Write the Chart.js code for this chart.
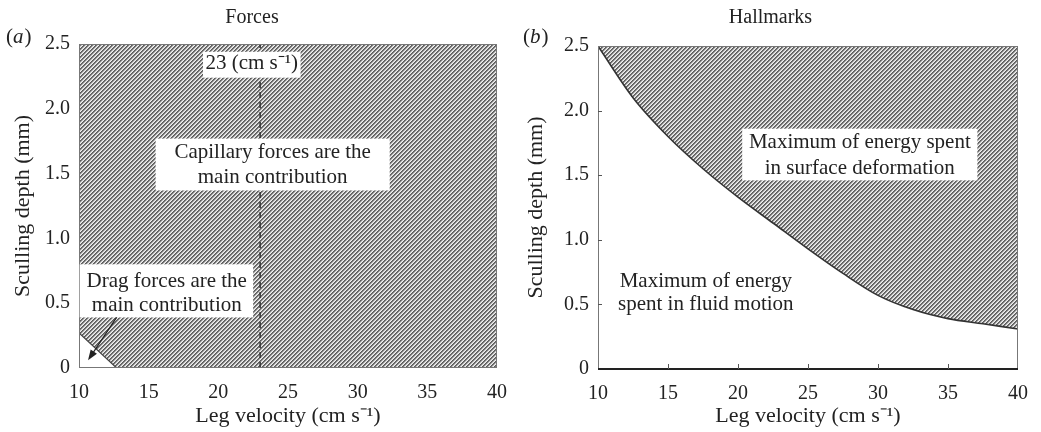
<!DOCTYPE html>
<html>
<head>
<meta charset="utf-8">
<script src="https://cdn.jsdelivr.net/npm/chart.js@4"></script>
<style>
  body { margin: 0; background: #fff; }
  canvas { position: absolute; top: 0; }
</style>
</head>
<body>
<canvas id="forces" width="520" height="432" style="left:0"></canvas>
<canvas id="hallmarks" width="521" height="432" style="left:520px"></canvas>
<script>
const velocityTicks = [10, 15, 20, 25, 30, 35, 40];
const depthTicks = [0, 0.5, 1, 1.5, 2, 2.5];

// (a) edge of the small drag-dominated corner, plus the crossover velocity
const dragEdgeVelocity = [10, 12.7, 40];
const dragEdgeDepth = [0.27, 0, 0];
const crossoverVelocity = 23;

// (b) boundary between the two energy regimes
const hallmarkVelocity = [10, 12.5, 15, 17.5, 20, 22.5, 25, 27.5, 30, 32.5, 35, 37.5, 40];
const hallmarkDepth = [2.5, 2.1, 1.8, 1.55, 1.33, 1.13, 0.93, 0.74, 0.57, 0.46, 0.39, 0.35, 0.31];

const SERIF = '"Liberation Serif", "Times New Roman", serif';
const INK = '#222';

function hatchPattern(ctx) {
  const c = document.createElement('canvas');
  c.width = c.height = 4;
  const g = c.getContext('2d');
  const img = g.createImageData(4, 4);
  const shade = [0x5c, 0x78, 0xcc, 0xee];
  for (let y = 0; y < 4; y++) {
    for (let x = 0; x < 4; x++) {
      const i = (y * 4 + x) * 4;
      const v = shade[(x + y) % 4];
      img.data[i] = img.data[i + 1] = img.data[i + 2] = v;
      img.data[i + 3] = 255;
    }
  }
  g.putImageData(img, 0, 0);
  return ctx.createPattern(c, 'repeat');
}

function points(xs, ys) {
  return xs.map((x, i) => ({ x: x, y: ys[i] }));
}

// text boxes, arrow, frame, inward ticks and the panel letter
const notesPlugin = {
  id: 'notes',
  afterDatasetsDraw(chart, args, opts) {
    const ctx = chart.ctx;
    const xs = chart.scales.x, ys = chart.scales.y;
    const a = chart.chartArea;
    ctx.save();

    // frame
    ctx.strokeStyle = '#777';
    ctx.lineWidth = 1;
    ctx.strokeRect(a.left + 0.5, a.top + 0.5, a.right - a.left - 1, a.bottom - a.top - 1);
    if (opts.darkBase) {
      ctx.strokeStyle = INK;
      ctx.lineWidth = 2;
      ctx.beginPath();
      ctx.moveTo(a.left, a.bottom);
      ctx.lineTo(a.right, a.bottom);
      ctx.stroke();
    }

    // inward tick marks
    if (opts.innerTicks) {
      ctx.strokeStyle = '#555';
      ctx.lineWidth = 1;
      ctx.beginPath();
      velocityTicks.slice(1, -1).forEach(v => {
        const px = Math.round(xs.getPixelForValue(v)) + 0.5;
        ctx.moveTo(px, a.bottom);
        ctx.lineTo(px, a.bottom - 5);
      });
      depthTicks.slice(1, -1).forEach(v => {
        const py = Math.round(ys.getPixelForValue(v)) + 0.5;
        ctx.moveTo(a.left, py);
        ctx.lineTo(a.left + 4, py);
      });
      ctx.stroke();
    }

    ctx.font = '21px ' + SERIF;
    ctx.textAlign = 'center';
    ctx.textBaseline = 'middle';
    (opts.items || []).forEach(n => {
      if (n.box) {
        const x0 = xs.getPixelForValue(n.box[0]), x1 = xs.getPixelForValue(n.box[1]);
        const y0 = ys.getPixelForValue(n.box[2]), y1 = ys.getPixelForValue(n.box[3]);
        ctx.fillStyle = '#fff';
        ctx.fillRect(x0, y0, x1 - x0, y1 - y0);
      }
      ctx.fillStyle = INK;
      n.text.forEach((t, i) => {
        ctx.fillText(t, xs.getPixelForValue(n.x), ys.getPixelForValue(n.y[i]));
      });
    });

    if (opts.arrow) {
      const [fx, fy, tx, ty] = opts.arrow;
      const x0 = xs.getPixelForValue(fx), y0 = ys.getPixelForValue(fy);
      const x1 = xs.getPixelForValue(tx), y1 = ys.getPixelForValue(ty);
      const ang = Math.atan2(y1 - y0, x1 - x0);
      ctx.strokeStyle = INK;
      ctx.fillStyle = INK;
      ctx.lineWidth = 1.2;
      ctx.beginPath();
      ctx.moveTo(x0, y0);
      ctx.lineTo(x1 - 8 * Math.cos(ang), y1 - 8 * Math.sin(ang));
      ctx.stroke();
      ctx.beginPath();
      ctx.moveTo(x1, y1);
      ctx.lineTo(x1 - 11 * Math.cos(ang - 0.35), y1 - 11 * Math.sin(ang - 0.35));
      ctx.lineTo(x1 - 11 * Math.cos(ang + 0.35), y1 - 11 * Math.sin(ang + 0.35));
      ctx.closePath();
      ctx.fill();
    }

    // panel letter, e.g. "(a)" with an italic letter
    if (opts.letter) {
      const [lx, ly] = opts.letterAt;
      ctx.textAlign = 'left';
      ctx.fillStyle = INK;
      ctx.font = '21px ' + SERIF;
      ctx.fillText('(', lx, ly);
      let w = ctx.measureText('(').width;
      ctx.font = 'italic 21px ' + SERIF;
      ctx.fillText(opts.letter, lx + w, ly);
      w += ctx.measureText(opts.letter).width + 1;
      ctx.font = '21px ' + SERIF;
      ctx.fillText(')', lx + w, ly);
    }
    ctx.restore();
  }
};

function axes(yWidth, xHeight, yTitlePad) {
  return {
    x: {
      type: 'linear', min: 10, max: 40,
      afterBuildTicks: s => { s.ticks = velocityTicks.map(v => ({ value: v })); },
      afterFit: s => { s.height = xHeight; },
      grid: { display: false, drawTicks: false },
      border: { display: false },
      ticks: { color: INK, padding: 13, font: { family: SERIF, size: 20 } },
      title: {
        display: true, text: 'Leg velocity (cm s\u207B\u00B9)', color: INK,
        font: { family: SERIF, size: 22 }, padding: { top: 2, bottom: 3 }
      }
    },
    y: {
      type: 'linear', min: 0, max: 2.5,
      afterBuildTicks: s => { s.ticks = depthTicks.map(v => ({ value: v })); },
      afterFit: s => { s.width = yWidth; },
      grid: { display: false, drawTicks: false },
      border: { display: false },
      ticks: {
        color: INK, padding: 9, font: { family: SERIF, size: 20 },
        callback: v => (v === 0 ? '0' : v.toFixed(1))
      },
      title: {
        display: true, text: 'Sculling depth (mm)', color: INK,
        font: { family: SERIF, size: 22 }, padding: { top: yTitlePad, bottom: 4 }
      }
    }
  };
}

function titleOpts(text, top, bottom) {
  return {
    display: true, text: text, color: INK,
    font: { family: SERIF, size: 20, weight: 'normal' },
    padding: { top: top, bottom: bottom }
  };
}

const forcesCtx = document.getElementById('forces').getContext('2d');
new Chart(forcesCtx, {
  type: 'line',
  data: {
    datasets: [
      {
        data: points(dragEdgeVelocity, dragEdgeDepth),
        borderColor: '#444', borderWidth: 1.2,
        backgroundColor: hatchPattern(forcesCtx),
        fill: 'end', pointRadius: 0, tension: 0, order: 2
      },
      {
        data: points([crossoverVelocity, crossoverVelocity], [0, 2.5]),
        borderColor: '#333', borderWidth: 1.5, borderDash: [6, 4],
        fill: false, pointRadius: 0, order: 1
      }
    ]
  },
  options: {
    responsive: false, animation: false,
    layout: { padding: { left: 0, right: 16, top: 0, bottom: 0 } },
    scales: axes(79, 64, 10),
    plugins: {
      legend: { display: false },
      tooltip: { enabled: false },
      title: titleOpts('Forces', 6, 14),
      notes: {
        letter: 'a', letterAt: [6, 37],
        items: [
          { box: [18.9, 25.9, 2.44, 2.24], x: 22.4, y: [2.35], text: ['23 (cm s\u207B\u00B9)'] },
          { box: [15.5, 32.3, 1.77, 1.37], x: 23.9, y: [1.66, 1.47],
            text: ['Capillary forces are the', 'main contribution'] },
          { box: [10.05, 22.5, 0.8, 0.39], x: 16.3, y: [0.67, 0.48],
            text: ['Drag forces are the', 'main contribution'] }
        ],
        arrow: [12.7, 0.39, 10.65, 0.06]
      }
    }
  },
  plugins: [notesPlugin]
});

const hallCtx = document.getElementById('hallmarks').getContext('2d');
new Chart(hallCtx, {
  type: 'line',
  data: {
    datasets: [
      {
        data: points(hallmarkVelocity, hallmarkDepth),
        borderColor: '#333', borderWidth: 1.6,
        backgroundColor: hatchPattern(hallCtx),
        fill: 'end', pointRadius: 0, cubicInterpolationMode: 'monotone'
      }
    ]
  },
  options: {
    responsive: false, animation: false,
    layout: { padding: { left: 0, right: 20, top: 0, bottom: 0 } },
    scales: axes(78, 63, 3),
    plugins: {
      legend: { display: false },
      tooltip: { enabled: false },
      title: titleOpts('Hallmarks', 6, 16),
      notes: {
        letter: 'b', letterAt: [3, 37], darkBase: true, innerTicks: true,
        items: [
          { box: [20.3, 37.1, 1.86, 1.46], x: 28.7, y: [1.75, 1.55],
            text: ['Maximum of energy spent', 'in surface deformation'] },
          { x: 17.7, y: [0.68, 0.5], text: ['Maximum of energy', 'spent in fluid motion'] }
        ]
      }
    }
  },
  plugins: [notesPlugin]
});
</script>
</body>
</html>
